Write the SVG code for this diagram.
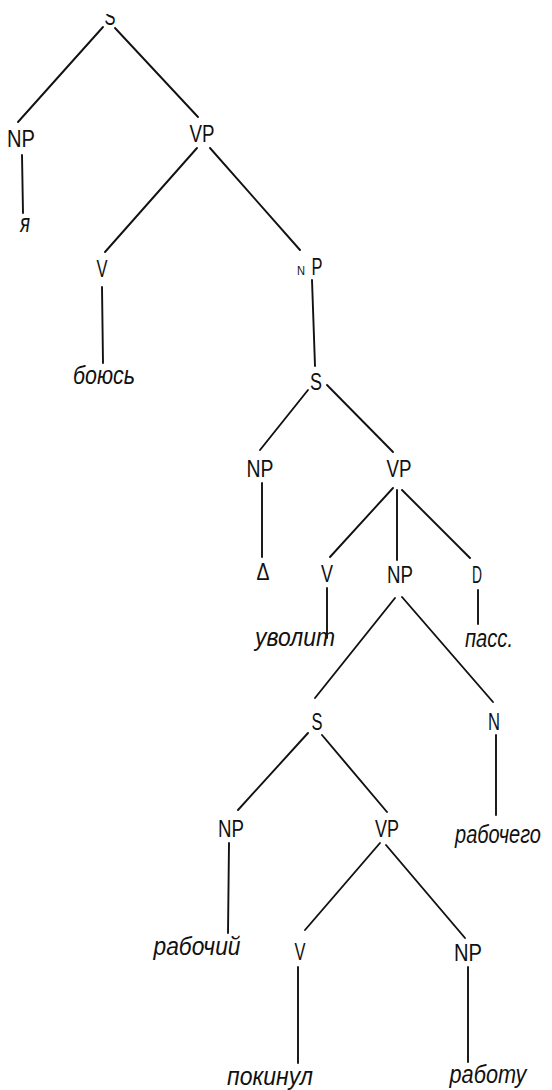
<svg xmlns="http://www.w3.org/2000/svg" width="552" height="1090" viewBox="0 0 552 1090">
  <style>
    .cat { font-family: "Liberation Sans", Arial, sans-serif; font-size: 23px; fill: #111; text-anchor: middle; }
    .small { font-family: "Liberation Sans", Arial, sans-serif; font-size: 12px; fill: #111; text-anchor: middle; }
    .word { font-family: "Liberation Sans", Arial, sans-serif; font-style: italic; font-size: 25px; fill: #111; text-anchor: middle; }
    .edge { stroke: #111; stroke-width: 1.9; stroke-linecap: round; fill: none; }
  </style>
  <defs>
    <clipPath id="topClip">
      <rect x="0" y="14" width="552" height="40"/>
    </clipPath>
  </defs>
  <rect width="552" height="1090" fill="#fff"/>

  <g id="connectors">
    <line class="edge" x1="103" y1="27" x2="18" y2="122"/>
    <line class="edge" x1="115" y1="28" x2="198" y2="117"/>
    <line class="edge" x1="22" y1="155" x2="23" y2="213"/>
    <line class="edge" x1="197" y1="148" x2="105" y2="252"/>
    <line class="edge" x1="210" y1="148" x2="300" y2="250"/>
    <line class="edge" x1="102" y1="287" x2="103" y2="363"/>
    <line class="edge" x1="312" y1="280" x2="315" y2="366"/>
    <line class="edge" x1="308" y1="390" x2="260" y2="450"/>
    <line class="edge" x1="327" y1="385" x2="393" y2="452"/>
    <line class="edge" x1="262" y1="483" x2="262" y2="557"/>
    <line class="edge" x1="393" y1="488" x2="330" y2="557"/>
    <line class="edge" x1="397" y1="490" x2="397" y2="560"/>
    <line class="edge" x1="402" y1="490" x2="470" y2="558"/>
    <line class="edge" x1="327" y1="588" x2="327" y2="638"/>
    <line class="edge" x1="478" y1="590" x2="478" y2="624"/>
    <line class="edge" x1="395" y1="598" x2="315" y2="698"/>
    <line class="edge" x1="402" y1="597" x2="493" y2="702"/>
    <line class="edge" x1="496" y1="735" x2="496" y2="815"/>
    <line class="edge" x1="308" y1="733" x2="238" y2="810"/>
    <line class="edge" x1="322" y1="735" x2="387" y2="812"/>
    <line class="edge" x1="229" y1="843" x2="228" y2="933"/>
    <line class="edge" x1="380" y1="843" x2="305" y2="930"/>
    <line class="edge" x1="386" y1="845" x2="465" y2="938"/>
    <line class="edge" x1="298" y1="967" x2="298" y2="1063"/>
    <line class="edge" x1="468" y1="967" x2="468" y2="1062"/>
  </g>

  <!-- top level clause -->
  <g id="s-root"><text class="cat" x="110" y="25" textLength="11" lengthAdjust="spacingAndGlyphs" clip-path="url(#topClip)">S</text></g>
  <g id="np-subject"><text class="cat" x="21" y="147" textLength="28" lengthAdjust="spacingAndGlyphs">NP</text></g>
  <g id="w-ya"><text class="word" x="25" y="232" textLength="10" lengthAdjust="spacingAndGlyphs">я</text></g>
  <g id="vp-main"><text class="cat" x="202" y="142" textLength="25" lengthAdjust="spacingAndGlyphs">VP</text></g>
  <g id="v-main"><text class="cat" x="102" y="277" textLength="11" lengthAdjust="spacingAndGlyphs">V</text></g>
  <g id="w-boyus"><text class="word" x="104" y="384" textLength="62" lengthAdjust="spacingAndGlyphs">боюсь</text></g>
  <g id="np-object">
    <text class="small" x="301" y="275" textLength="8" lengthAdjust="spacingAndGlyphs">N</text>
    <text class="cat" x="317" y="275" textLength="11" lengthAdjust="spacingAndGlyphs">P</text>
  </g>

  <!-- embedded clause -->
  <g id="s-embedded"><text class="cat" x="316" y="390" textLength="12" lengthAdjust="spacingAndGlyphs">S</text></g>
  <g id="np-empty"><text class="cat" x="260" y="477" textLength="27" lengthAdjust="spacingAndGlyphs">NP</text></g>
  <g id="w-delta"><text class="cat" x="263" y="580" textLength="13" lengthAdjust="spacingAndGlyphs">Δ</text></g>
  <g id="vp-embedded"><text class="cat" x="399" y="477" textLength="25" lengthAdjust="spacingAndGlyphs">VP</text></g>
  <g id="v-embedded"><text class="cat" x="327" y="582" textLength="12" lengthAdjust="spacingAndGlyphs">V</text></g>
  <g id="w-uvolit"><text class="word" x="295" y="646" textLength="80" lengthAdjust="spacingAndGlyphs">уволит</text></g>
  <g id="np-embedded"><text class="cat" x="400" y="583" textLength="26" lengthAdjust="spacingAndGlyphs">NP</text></g>
  <g id="d-passive"><text class="cat" x="477" y="583" textLength="10" lengthAdjust="spacingAndGlyphs">D</text></g>
  <g id="w-pass"><text class="word" x="489" y="647" textLength="48" lengthAdjust="spacingAndGlyphs">пасс.</text></g>

  <!-- relative clause -->
  <g id="s-relative"><text class="cat" x="317" y="730" textLength="11" lengthAdjust="spacingAndGlyphs">S</text></g>
  <g id="n-head"><text class="cat" x="494" y="730" textLength="12" lengthAdjust="spacingAndGlyphs">N</text></g>
  <g id="w-rabochego"><text class="word" transform="translate(498 843) scale(0.8 1)" x="0" y="0">рабочего</text></g>
  <g id="np-relative"><text class="cat" x="231" y="837" textLength="26" lengthAdjust="spacingAndGlyphs">NP</text></g>
  <g id="w-rabochiy"><text class="word" x="197" y="955" textLength="87" lengthAdjust="spacingAndGlyphs">рабочий</text></g>
  <g id="vp-relative"><text class="cat" x="387" y="837" textLength="24" lengthAdjust="spacingAndGlyphs">VP</text></g>
  <g id="v-relative"><text class="cat" x="300" y="960" textLength="11" lengthAdjust="spacingAndGlyphs">V</text></g>
  <g id="w-pokinul"><text class="word" x="270" y="1085" textLength="86" lengthAdjust="spacingAndGlyphs">покинул</text></g>
  <g id="np-work"><text class="cat" x="468" y="961" textLength="28" lengthAdjust="spacingAndGlyphs">NP</text></g>
  <g id="w-rabotu"><text class="word" x="488" y="1083" textLength="77" lengthAdjust="spacingAndGlyphs">работу</text></g>
</svg>
